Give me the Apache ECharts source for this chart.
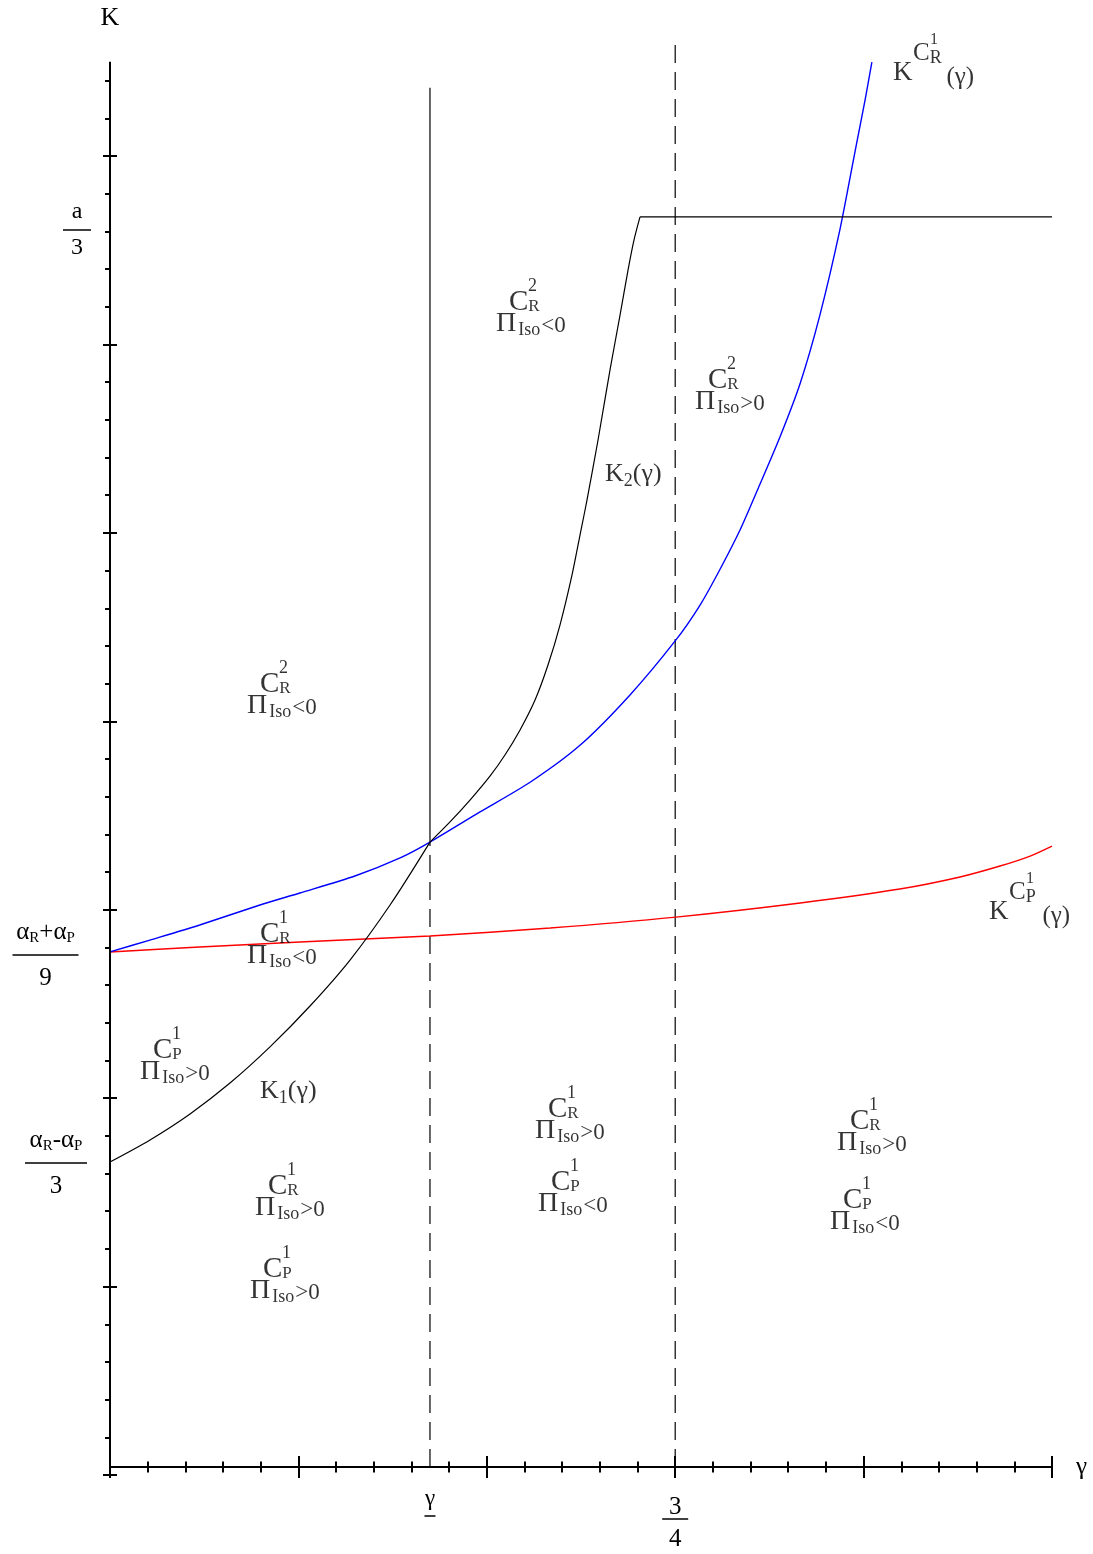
<!DOCTYPE html>
<html><head><meta charset="utf-8">
<script src="https://cdn.jsdelivr.net/npm/echarts@6/dist/echarts.min.js"></script>
<style>html,body{margin:0;padding:0;background:#fff}#c{width:1093px;height:1554px}</style>
</head><body><div id="c"></div>
<script>
// ---------------- data ----------------
const gammaBar = 0.4246;      // γ̄
const threeQuarter = 0.75;    // 3/4
const yTop = 7.6;

const blueKCR1 = [[0,2.776],[0.053,2.839],[0.119,2.919],[0.199,3.025],[0.252,3.089],[0.325,3.179],[0.385,3.275],[0.4246,3.359],[0.491,3.519],[0.558,3.678],[0.624,3.874],[0.690,4.140],[0.751,4.432],[0.783,4.617],[0.809,4.803],[0.836,5.015],[0.862,5.254],[0.889,5.509],[0.916,5.796],[0.942,6.156],[0.969,6.618],[0.989,7.032],[1.002,7.298],[1.011,7.499]];
const redKCP1 = [[0,2.776],[0.119,2.802],[0.252,2.829],[0.4246,2.861],[0.584,2.903],[0.751,2.961],[0.916,3.036],[1.048,3.110],[1.128,3.174],[1.181,3.232],[1.221,3.285],[1.25,3.338]];
const k1Curve = [[0,1.661],[0.0531,1.778],[0.1062,1.916],[0.1592,2.080],[0.2123,2.272],[0.2654,2.489],[0.3185,2.733],[0.3716,3.025],[0.4246,3.359]];
const k2Curve = [[0.4246,3.359],[0.4512,3.466],[0.4777,3.582],[0.5042,3.709],[0.5241,3.821],[0.5441,3.954],[0.564,4.113],[0.5812,4.299],[0.5971,4.511],[0.6131,4.777],[0.625,5.015],[0.633,5.175],[0.6476,5.493],[0.6635,5.865],[0.6768,6.156],[0.6874,6.395],[0.6953,6.554],[0.7033,6.677]];
const k2Flat = [[0.7033,6.677],[1.25,6.677]];
const gammaBarSolid = [[gammaBar,3.359],[gammaBar,7.362]];
const gammaBarDashed = [[gammaBar,0.042],[gammaBar,3.359]];
const threeQuarterDashed = [[threeQuarter,0.042],[threeQuarter,yTop]];
const yAxisSpan = [[0,0],[0,7.5]];

const yMajorTicks = [0,1,2,3,4,5,6,7];
const xLabelValues = [gammaBar, threeQuarter];
const yLabelValues = [6.6076, 2.7598, 1.6559];
const yLabelNumerators = [[['a','']], [['α','R'],['+α','P']], [['α','R'],['-α','P']]];
const yLabelDenominators = ['3','9','3'];

// region annotations: C^sup_sub / Π_Iso (sign) 0
const noteX = [0.5122, 0.7763, 0.1818, 0.1818, 0.0398, 0.1924, 0.1858, 0.5640, 0.5679, 0.9647, 0.9554];
const noteY = [6.1936, 5.7796, 4.1662, 2.8394, 2.2238, 1.5020, 1.0615, 1.9106, 1.5232, 1.8469, 1.4277];
const noteSup = ['2','2','2','1','1','1','1','1','1','1','1'];
const noteSub = ['R','R','R','R','P','R','P','R','P','R','P'];
const noteSign = ['<','>','<','<','>','>','>','>','<','>','<'];
// curve names
const curveNameX = [0.6569, 0.1990];
const curveNameY = [5.3126, 2.0380];
const curveNameSub = ['2','1'];
const kSupNameX = [1.0390, 1.1664];
const kSupNameY = [7.4992, 3.0464];
const kSupNameSub = ['R','P'];

// ---------------- styles ----------------
const SERIF = 'Liberation Serif';
function st(size, o) { return Object.assign({fontFamily: SERIF, fontSize: size, color: '#000'}, o || {}); }
const rich = {
  csp1: st(18, {width: 32, lineHeight: 12}),
  sup: st(18, {lineHeight: 12}),
  csp2: st(18, {width: 13, lineHeight: 20}),
  cc: st(29, {lineHeight: 20}),
  sub: st(17, {lineHeight: 20, verticalAlign: 'bottom', height: 10}),
  pi: st(28, {lineHeight: 24}),
  iso: st(18, {lineHeight: 24, verticalAlign: 'bottom', height: 12, padding: [0,1,0,2]}),
  rel: st(23, {lineHeight: 24, verticalAlign: 'bottom', height: 20}),
  kk: st(26, {lineHeight: 26}),
  kn: st(18, {lineHeight: 26, verticalAlign: 'bottom', height: 12}),
  kg: st(26, {lineHeight: 26}),
  ks1: st(13, {width: 37, lineHeight: 10}),
  ksup: st(16, {lineHeight: 10}),
  ks2: st(13, {width: 20, lineHeight: 20}),
  kc: st(25, {lineHeight: 20, verticalAlign: 'top', height: 18}),
  ksub: st(18, {lineHeight: 20, verticalAlign: 'bottom', height: 12}),
  kbig: st(27, {lineHeight: 25, verticalAlign: 'top', height: 16}),
  ks3: st(13, {width: 34, lineHeight: 25}),
  kgam: st(25, {lineHeight: 25}),
  // axis labels
  fn: st(25, {lineHeight: 36}),
  fs: st(15, {lineHeight: 36, verticalAlign: 'bottom', height: 24}),
  fnA: st(24, {lineHeight: 26}),
  fbA: st(1, {width: 28, height: 1.5, lineHeight: 4, backgroundColor: '#000'}),
  fbB: st(1, {width: 66, height: 1.5, lineHeight: 4, backgroundColor: '#000'}),
  fbC: st(1, {width: 62, height: 1.5, lineHeight: 4, backgroundColor: '#000'}),
  spA: st(10, {width: 28}),
  spB: st(10, {width: 91}),
  spC: st(10, {width: 70}),
  xg: st(23, {lineHeight: 20}),
  xgb: st(1, {width: 11, height: 1.5, lineHeight: 14, backgroundColor: '#000'}),
  xsp: st(8, {lineHeight: 8}),
  xn: st(25, {lineHeight: 20}),
  xb: st(1, {width: 26, height: 1.5, lineHeight: 4, backgroundColor: '#000'}),
  xd: st(25, {lineHeight: 36})
};

function cBlock(sup, sub, sign) {
  return '{csp1| }{sup|' + sup + '}\n{csp2| }{cc|C}{sub|' + sub + '}\n{pi|Π}{iso|Iso}{rel|' + sign + '0}';
}
function kName(sub) { return '{kk|K}{kn|' + sub + '}{kg|(γ)}'; }
function kSupName(sub) {
  return '{ks1| }{ksup|1}\n{ks2| }{kc|C}{ksub|' + sub + '}\n{kbig|K}{ks3| }{kgam|(γ)}';
}
function idxOf(arr, v) { for (let i = 0; i < arr.length; i++) if (Math.abs(arr[i] - v) < 1e-6) return i; return -1; }

function yLabel(value) {
  const i = idxOf(yLabelValues, value);
  if (i < 0) return '';
  const key = ['A','B','C'][i];
  const spacer = '{sp' + key + '| }';
  let num = '';
  yLabelNumerators[i].forEach(function (p) {
    num += '{' + (i === 0 ? 'fnA' : 'fn') + '|' + p[0] + '}';
    if (p[1]) num += '{fs|' + p[1] + '}';
  });
  const denStyle = i === 0 ? 'fnA' : 'fn';
  return num + spacer + '\n{fb' + key + '| }' + spacer + '\n{' + denStyle + '|' + yLabelDenominators[i] + '}' + spacer;
}
function xLabel(value) {
  const i = idxOf(xLabelValues, value);
  if (i === 0) return '{xg|γ}\n{xgb| }';
  if (i === 1) return '{xsp| }\n{xn|3}\n{xb| }\n{xd|4}';
  return '';
}

const noteData = [];
for (let i = 0; i < noteX.length; i++) noteData.push({value: [noteX[i], noteY[i]], name: cBlock(noteSup[i], noteSub[i], noteSign[i])});
for (let i = 0; i < curveNameX.length; i++) noteData.push({value: [curveNameX[i], curveNameY[i]], name: kName(curveNameSub[i])});
for (let i = 0; i < kSupNameX.length; i++) noteData.push({value: [kSupNameX[i], kSupNameY[i]], name: kSupName(kSupNameSub[i])});

function lineSeries(data, color, type, width, extra) {
  return Object.assign({
    type: 'line', data: data, showSymbol: false, symbol: 'none', silent: true, animation: false,
    lineStyle: {color: color, width: width || 1.2, type: type || 'solid'}
  }, extra || {});
}

const xBase = {type: 'value', min: 0, max: 1.25, interval: 0.25, position: 'bottom', offset: -8,
  splitLine: {show: false}};
const yBase = {type: 'value', min: 0, max: yTop, interval: 1, position: 'left',
  splitLine: {show: false}, axisLine: {show: false, onZero: false}};

const option = {
  animation: false,
  backgroundColor: '#fff',
  textStyle: {fontFamily: SERIF},
  grid: {left: 110, right: 41, top: 43, bottom: 79, containLabel: false},
  xAxis: [
    Object.assign({}, xBase, {
      name: 'γ', nameLocation: 'end', nameGap: 24,
      nameTextStyle: {fontFamily: SERIF, fontSize: 25, color: '#000'},
      axisLine: {show: true, onZero: false, lineStyle: {color: '#000', width: 2}},
      axisTick: {show: true, inside: false, length: 11, lineStyle: {color: '#000', width: 2}},
      minorTick: {show: true, splitNumber: 5, length: 5.5, lineStyle: {color: '#000', width: 2}},
      axisLabel: {show: true, customValues: xLabelValues, margin: 22, formatter: xLabel, rich: rich, color: '#000'}
    }),
    Object.assign({}, xBase, {
      axisLine: {show: false, onZero: false},
      axisTick: {show: true, inside: true, length: 11, lineStyle: {color: '#000', width: 2}},
      minorTick: {show: true, splitNumber: 5, length: 5.5, lineStyle: {color: '#000', width: 2}},
      axisLabel: {show: false}
    })
  ],
  yAxis: [
    Object.assign({}, yBase, {
      name: 'K', nameLocation: 'end', nameGap: 12,
      nameTextStyle: {fontFamily: SERIF, fontSize: 26, color: '#000', align: 'center'},
      axisTick: {show: true, inside: false, length: 7, customValues: yMajorTicks, lineStyle: {color: '#000', width: 2}},
      minorTick: {show: true, splitNumber: 5, length: 5, lineStyle: {color: '#000', width: 2}},
      axisLabel: {show: true, customValues: yLabelValues, margin: 19, align: 'center', formatter: yLabel, rich: rich, color: '#000'}
    }),
    Object.assign({}, yBase, {
      axisTick: {show: true, inside: true, length: 7, customValues: yMajorTicks, lineStyle: {color: '#000', width: 2}},
      minorTick: {show: false},
      axisLabel: {show: false}
    })
  ],
  series: [
    lineSeries(yAxisSpan, '#000', 'solid', 2, {clip: false, z: 5}),
    lineSeries(threeQuarterDashed, '#000', [18, 9], 1.2),
    lineSeries(gammaBarDashed, '#000', [18, 9], 1.2),
    lineSeries(gammaBarSolid, '#000', 'solid', 1.2),
    lineSeries(redKCP1, '#ff0000', 'solid', 1.4, {smooth: 0.25}),
    lineSeries(blueKCR1, '#0000ff', 'solid', 1.4, {smooth: 0.25}),
    lineSeries(k1Curve, '#000', 'solid', 1.2, {smooth: 0.3}),
    lineSeries(k2Curve, '#000', 'solid', 1.2, {smooth: 0.25}),
    lineSeries(k2Flat, '#000', 'solid', 1.2),
    {
      type: 'scatter', data: noteData, symbolSize: 0.1, silent: true, animation: false, z: 10,
      itemStyle: {color: 'rgba(0,0,0,0)'},
      label: {show: true, position: 'inside', align: 'left', verticalAlign: 'middle',
        formatter: function (p) { return p.name; }, rich: rich, color: '#000', fontFamily: SERIF}
    }
  ]
};

const chart = echarts.init(document.getElementById('c'), null, {renderer: 'canvas'});
chart.setOption(option);
</script>
</body></html>
